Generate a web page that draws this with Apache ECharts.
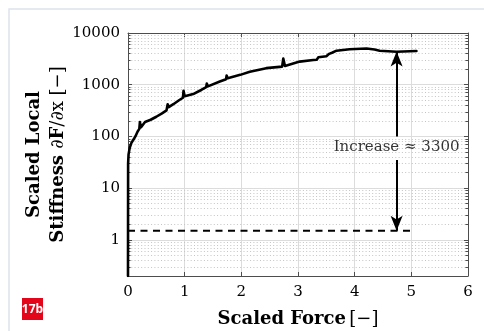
<!DOCTYPE html>
<html>
<head>
<meta charset="utf-8">
<script src="https://cdn.jsdelivr.net/npm/echarts@6/dist/echarts.min.js"></script>
<style>
html,body{margin:0;padding:0;background:#fff;}
#c{width:484px;height:331px;}
</style>
</head>
<body>
<div id="c"></div>
<script>
// ---- data ----
const forceX = [0, 0.002, 0.01, 0.03, 0.06, 0.1, 0.13, 0.17, 0.2, 0.21, 0.23, 0.3, 0.4, 0.5, 0.6, 0.68, 0.7, 0.72, 0.8, 0.9, 0.97, 0.98, 1.0, 1.15, 1.3, 1.38, 1.39, 1.41, 1.62, 1.73, 1.74, 1.76, 1.98, 2.15, 2.44, 2.72, 2.74, 2.77, 3.03, 3.27, 3.33, 3.36, 3.5, 3.55, 3.6, 3.68, 3.91, 4.21, 4.35, 4.44, 4.74, 5.09];
const stiffnessY = [0.2, 30, 45, 60, 75, 88, 100, 125, 140, 190, 150, 190, 210, 240, 280, 320, 420, 370, 420, 500, 560, 760, 600, 660, 800, 900, 1050, 930, 1150, 1280, 1500, 1330, 1550, 1780, 2090, 2240, 3200, 2300, 2800, 3000, 3050, 3400, 3550, 3950, 4150, 4550, 4850, 5000, 4800, 4550, 4350, 4500];
const baselineX = [0, 5];
const baselineY = [1.5, 1.5];
const annotationX = 4.74;
const arrowUpY = [100, 4400];
const arrowDownY = [35, 1.5];
const annotationTextY = 63;
const annotationText = 'Increase \u2248 3300';
const xTickLabels = ['0', '1', '2', '3', '4', '5', '6'];
const yTickValues = [1, 10, 100, 1000, 10000];
const yTickLabels = ['1', '10', '100', '1000', '10000'];
const minorGridValues = [0.3, 0.4, 0.5, 0.6, 0.7, 0.8, 0.9, 2, 3, 4, 5, 6, 7, 8, 9, 20, 30, 40, 50, 60, 70, 80, 90, 200, 300, 400, 500, 600, 700, 800, 900, 2000, 3000, 4000, 5000, 6000, 7000, 8000, 9000];
const xAxisName = 'Scaled Force';
const yAxisNameLine1 = 'Scaled Local';

const SERIF = '"DejaVu Serif", serif';
const curveData = forceX.map((x, i) => [x, stiffnessY[i]]);
const baselineData = baselineX.map((x, i) => [x, baselineY[i]]);

function yLabel(v) {
  for (let i = 0; i < yTickValues.length; i++) {
    if (Math.abs(v - yTickValues[i]) / yTickValues[i] < 1e-6) return yTickLabels[i];
  }
  return '';
}

const chart = echarts.init(document.getElementById('c'), null, {renderer: 'canvas'});
const axisLineStyle = {color: '#4d4d4d', width: 1};

chart.setOption({
  animation: false,
  backgroundColor: '#fff',
  grid: {left: 128, right: 16, top: 33, bottom: 55, containLabel: false, outerBoundsMode: 'none'},
  xAxis: [{
    type: 'value', min: 0, max: 6, interval: 1,
    axisLine: {show: true, onZero: false, lineStyle: axisLineStyle},
    axisTick: {show: true, inside: true, length: 4, lineStyle: axisLineStyle},
    axisLabel: {color: '#000', fontFamily: SERIF, fontSize: 15, margin: 9,
      formatter: v => xTickLabels[Math.round(v)] || ''},
    splitLine: {show: true, lineStyle: {color: '#dcdcdc', width: 1}},
    name: '{b|' + xAxisName + '} {r|[\u2212]}',
    nameLocation: 'middle', nameGap: 34,
    nameTextStyle: {rich: {
      b: {fontFamily: SERIF, fontWeight: 'bold', fontSize: 18, color: '#000'},
      r: {fontFamily: SERIF, fontSize: 18, color: '#000'}
    }}
  }, {
    type: 'value', min: 0, max: 6, interval: 1, position: 'top',
    axisLine: {show: true, onZero: false, lineStyle: axisLineStyle},
    axisTick: {show: true, inside: true, length: 4, lineStyle: axisLineStyle},
    axisLabel: {show: false}, splitLine: {show: false}
  }],
  yAxis: [{
    type: 'log', logBase: 10, min: 0.2, max: 10000,
    axisLine: {show: true, onZero: false, lineStyle: axisLineStyle},
    axisTick: {show: true, inside: true, length: 4, lineStyle: axisLineStyle},
    axisLabel: {color: '#000', fontFamily: SERIF, fontSize: 15, margin: 8, formatter: yLabel},
    splitLine: {show: true, lineStyle: {color: '#dcdcdc', width: 1}},
    name: '{b|' + yAxisNameLine1 + '}\n{b|Stiffness }{r|\u2202}{b|F}{r|/\u2202x [\u2212]}',
    nameLocation: 'middle', nameRotate: 90, nameGap: 58, nameMoveOverlap: false,
    nameTextStyle: {lineHeight: 24, rich: {
      b: {fontFamily: SERIF, fontWeight: 'bold', fontSize: 18, color: '#000', lineHeight: 24},
      r: {fontFamily: SERIF, fontSize: 18, color: '#000', lineHeight: 24}
    }}
  }, {
    type: 'log', logBase: 10, min: 0.2, max: 10000, position: 'right',
    axisLine: {show: true, onZero: false, lineStyle: axisLineStyle},
    axisTick: {show: true, inside: true, length: 4, lineStyle: axisLineStyle},
    axisLabel: {show: false}, splitLine: {show: false}
  }],
  series: [{
    name: 'minorGrid', type: 'line', data: [], silent: true, z: 1,
    markLine: {
      silent: true, symbol: 'none', label: {show: false}, animation: false,
      lineStyle: {type: [1, 2.3], color: '#c4c4c4', width: 1},
      emphasis: {disabled: true},
      data: minorGridValues.map(v => ({yAxis: v}))
    }
  }, {
    name: 'minorTicks', type: 'line', data: [], silent: true, z: 3,
    markLine: {
      silent: true, symbol: 'none', label: {show: false}, animation: false,
      lineStyle: {type: 'solid', color: '#4d4d4d', width: 1},
      emphasis: {disabled: true},
      data: minorGridValues.flatMap(v => [
        [{coord: [0, v]}, {coord: [0.045, v]}],
        [{coord: [5.955, v]}, {coord: [6, v]}]
      ])
    }
  }, {
    name: 'baseline', type: 'line', data: baselineData, showSymbol: false, z: 4,
    lineStyle: {color: '#000', width: 2.2, type: [7, 5.5]}
  }, {
    name: 'stiffness', type: 'line', data: curveData, showSymbol: false, z: 5,
    lineStyle: {color: '#000', width: 2.6, join: 'round', cap: 'round'}
  }, {
    name: 'annotation', type: 'scatter', z: 6, symbolSize: 0,
    data: [[annotationX, annotationTextY]],
    label: {show: true, position: 'inside', formatter: annotationText,
      fontFamily: SERIF, fontSize: 15, color: '#000'},
    markLine: {
      silent: true, symbol: ['none', 'arrow'], symbolSize: [9, 15],
      label: {show: false}, animation: false,
      lineStyle: {color: '#000', width: 2, type: 'solid'},
      emphasis: {disabled: true},
      data: [
        [{coord: [annotationX, arrowUpY[0]]}, {coord: [annotationX, arrowUpY[1]]}],
        [{coord: [annotationX, arrowDownY[0]]}, {coord: [annotationX, arrowDownY[1]]}]
      ]
    }
  }],
  graphic: [{
    type: 'rect', silent: true, z: -10,
    shape: {x: 9, y: 9, width: 520, height: 360},
    style: {fill: 'none', stroke: '#dde4ec', lineWidth: 1.5}
  }, {
    type: 'rect', silent: true, z: 10,
    shape: {x: 22, y: 298, width: 21, height: 22},
    style: {fill: '#e3061b'}
  }, {
    type: 'text', silent: true, z: 11, x: 32.5, y: 309.5,
    style: {text: '17b', fill: '#fff', font: 'bold 12px "Open Sans", sans-serif',
      align: 'center', verticalAlign: 'middle'}
  }]
});
</script>
</body>
</html>
